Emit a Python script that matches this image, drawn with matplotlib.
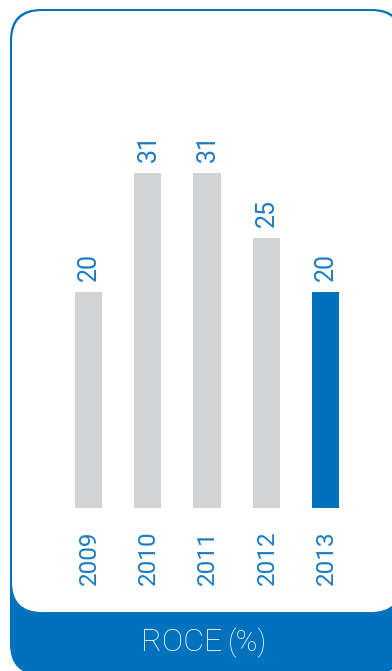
import matplotlib
matplotlib.use("Agg")
import matplotlib.pyplot as plt
from matplotlib.patches import FancyBboxPatch

# Data
years = ["2009", "2010", "2011", "2012", "2013"]
roce = [20, 31, 31, 25, 20]
title_main = "ROCE"
title_unit = "(%)"

BLUE = "#0071BC"
LABEL_BLUE = "#1B7BC4"
GREY = "#D1D3D4"
FONT = ["Roboto", "DejaVu Sans"]

W, H = 392, 671
fig = plt.figure(figsize=(W / 100, H / 100), dpi=100)
fig.patch.set_facecolor("white")

# Background card drawn in pixel coordinates
bg = fig.add_axes([0, 0, 1, 1])
bg.set_xlim(0, W)
bg.set_ylim(H, 0)
bg.axis("off")
pad = 31
outer = FancyBboxPatch((10 + pad, 9 + pad), 403 - 10 - 2 * pad, 675 - 9 - 2 * pad,
                       boxstyle=f"round,pad={pad}", facecolor=BLUE, edgecolor="none")
bg.add_patch(outer)
ipad = 30
inner = FancyBboxPatch((12 + ipad, 11 + ipad), 401 - 12 - 2 * ipad, 612 - 11 - 2 * ipad,
                       boxstyle=f"round,pad={ipad}", facecolor="white", edgecolor="none")
bg.add_patch(inner)

bg.text(222, 651, title_main, color="white", fontsize=23, family=FONT,
        fontweight="light", ha="right", va="baseline")
bg.text(228, 651, title_unit, color="white", fontsize=21, family=FONT,
        fontweight="light", ha="left", va="baseline")

# Bar chart axes: bottom at 508 px, 10.82 px per unit
px_per_unit = 10.82
ax_bottom_px, ax_top_px = 508, 130
ax_left_px, ax_right_px = 58.9, 355.1
ax = fig.add_axes([ax_left_px / W, (H - ax_bottom_px) / H,
                   (ax_right_px - ax_left_px) / W, (ax_bottom_px - ax_top_px) / H])
ax.set_facecolor("none")
ax.set_xlim(-0.5, len(years) - 0.5)
ax.set_ylim(0, (ax_bottom_px - ax_top_px) / px_per_unit)
ax.axis("off")

colors = [GREY] * (len(years) - 1) + [BLUE]
x = list(range(len(years)))
ax.bar(x, roce, width=0.456, color=colors, edgecolor="none")

for xi, v, yr in zip(x, roce, years):
    ax.annotate(str(v), (xi, v), xytext=(0.6, 7.5), textcoords="offset points",
                rotation=90, ha="center", va="bottom", color=LABEL_BLUE,
                fontsize=18, family=FONT, annotation_clip=False)
    ax.annotate(yr, (xi, 0), xytext=(0.6, -16), textcoords="offset points",
                rotation=90, ha="center", va="top", color=LABEL_BLUE,
                fontsize=17.5, family=FONT, annotation_clip=False)

fig.savefig("out.png", dpi=100, facecolor="white")
